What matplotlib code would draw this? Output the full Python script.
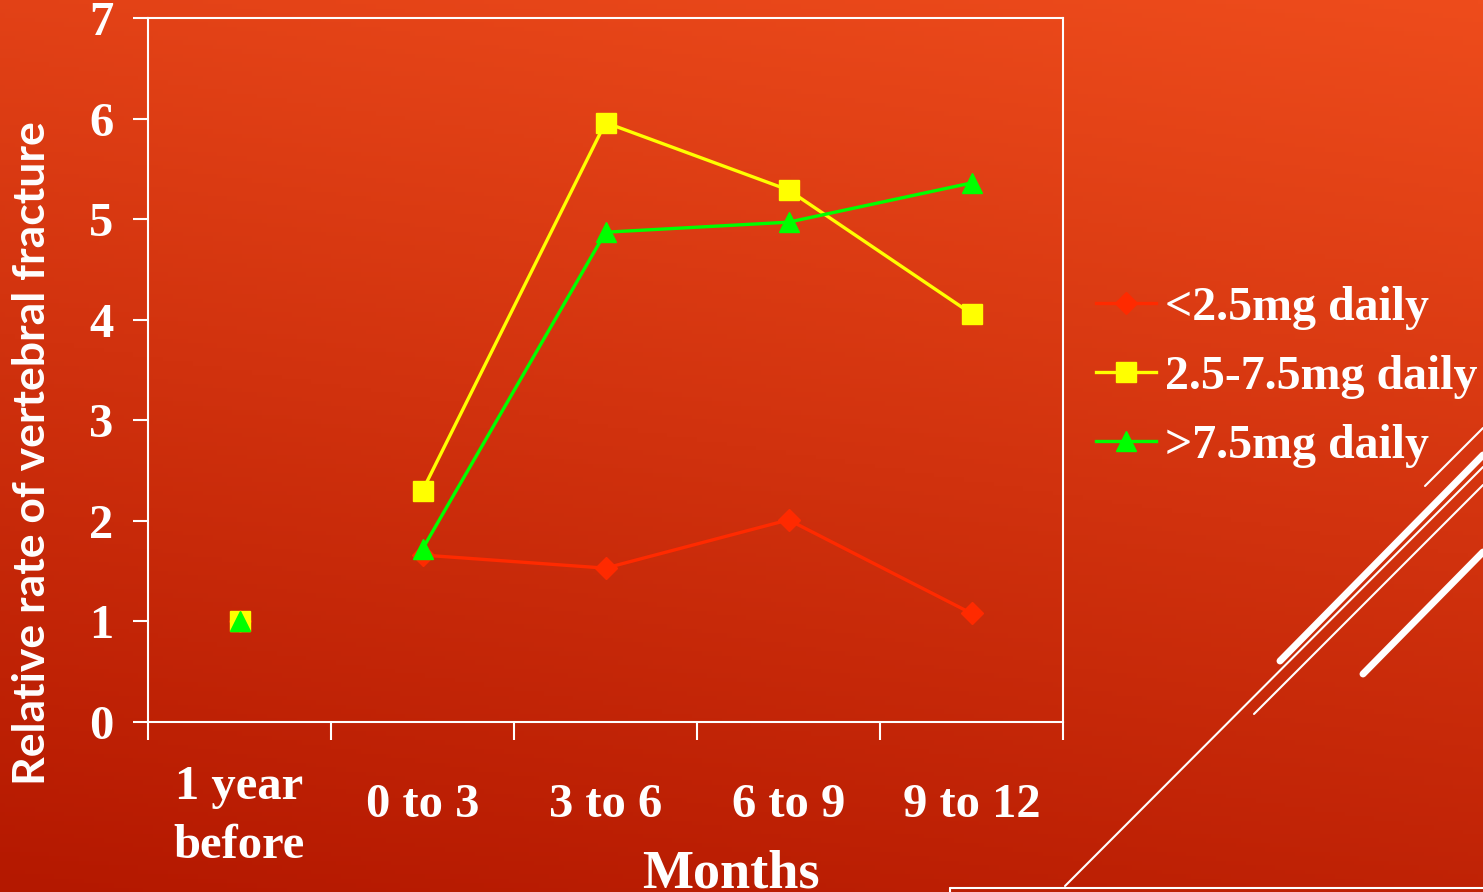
import numpy as np
import matplotlib.pyplot as plt
from matplotlib.ticker import FixedLocator, NullFormatter

# data
categories = ['1 year\nbefore', '0 to 3', '3 to 6', '6 to 9', '9 to 12']
low_dose = [1.0, 1.66, 1.53, 2.01, 1.08]
mid_dose = [1.0, 2.30, 5.96, 5.29, 4.06]
high_dose = [1.0, 1.72, 4.87, 4.97, 5.36]
series_names = ['<2.5mg daily', '2.5-7.5mg daily', '>7.5mg daily']
y_ticks = [0, 1, 2, 3, 4, 5, 6, 7]

W, H = 1483, 892
fig = plt.figure(figsize=(W / 100, H / 100), dpi=100)

# background gradient + slide decoration
bg = fig.add_axes((0, 0, 1, 1), zorder=-5)
yy, xx = np.mgrid[0:1:200j, 0:1:300j]
t = np.clip(0.8 * yy + 0.2 * (1 - xx), 0, 1)[..., None]
top = np.array([238, 76, 28]) / 255
bot = np.array([180, 24, 0]) / 255
bg.imshow(top * (1 - t) + bot * t, extent=(0, W, H, 0), aspect='auto')
deco = [((1065, 886), (1483, 467), 1.5), ((1254, 714), (1483, 485), 1.5),
        ((1425, 486), (1483, 428), 1.5), ((1280, 661), (1483, 455), 5),
        ((1363, 674), (1483, 552), 5), ((950, 888), (1483, 888), 1.5),
        ((950, 888), (950, 892), 1.5)]
for (x0, y0), (x1, y1), lw in deco:
    bg.plot([x0, x1], [y0, y1], color='white', lw=lw, solid_capstyle='round')
bg.set_xlim(0, W)
bg.set_ylim(H, 0)
bg.axis('off')

ax = fig.add_axes((148 / W, 1 - 722 / H, (1063 - 148) / W, (722 - 18) / H))
ax.set_facecolor('none')

x = np.arange(1, len(categories) + 1)
styles = [(low_dose, '#FF2A00', 'D', 11), (mid_dose, '#FFFF00', 's', 14),
          (high_dose, '#00FF00', '^', 15)]
handles = []
for (vals, col, mk, ms), name in zip(styles, series_names):
    h, = ax.plot(x[1:], vals[1:], color=col, lw=2.4, marker=mk, ms=ms,
                 mec=col, mfc=col, label=name)
    ax.plot(x[:1], vals[:1], ls='none', marker=mk, ms=ms, mec=col, mfc=col)
    handles.append(h)

ax.set_xlim(0.5, 5.5)
ax.set_ylim(0, 7)
for s in ax.spines.values():
    s.set_color('white')
    s.set_linewidth(1.5)

serif = dict(family='Liberation Serif', weight='bold', size=35)
ax.xaxis.set_major_locator(FixedLocator(np.arange(0.5, 6, 1)))
ax.xaxis.set_major_formatter(NullFormatter())
ax.set_xticks(x, minor=True)
ax.set_xticklabels(categories, minor=True, color='white', fontdict=serif,
                   va='center', linespacing=1.45)
ax.tick_params(axis='x', which='major', direction='out', length=13, width=1.5,
               color='white')
ax.tick_params(axis='x', which='minor', length=0, pad=60)
ax.get_xticklabels(minor=True)[0].set_y(-0.016)
ax.set_yticks(y_ticks)
ax.set_yticklabels([str(v) for v in y_ticks], color='white', fontdict=serif)
ax.tick_params(axis='y', direction='out', length=11, width=1.5, color='white', pad=14)

ax.set_ylabel('Relative rate of vertebral fracture', color='white',
              family='Lato', weight='bold', size=32)
ax.yaxis.set_label_coords((52 - 148) / 915, (722 - 453) / 704)

fig.text(731 / W, 1 - 888 / H, 'Months', color='white', family='Liberation Serif',
         weight='bold', size=39, ha='center', va='baseline')

fig.legend(handles=handles, loc='center left', bbox_to_anchor=(1096 / W, 1 - 377 / H),
           frameon=False, prop=dict(family='Liberation Serif', weight='bold', size=34.5),
           labelcolor='white', handlelength=1.25, handletextpad=0.2,
           labelspacing=0.52, borderpad=0, borderaxespad=0)

plt.savefig('out.png', dpi=100)
